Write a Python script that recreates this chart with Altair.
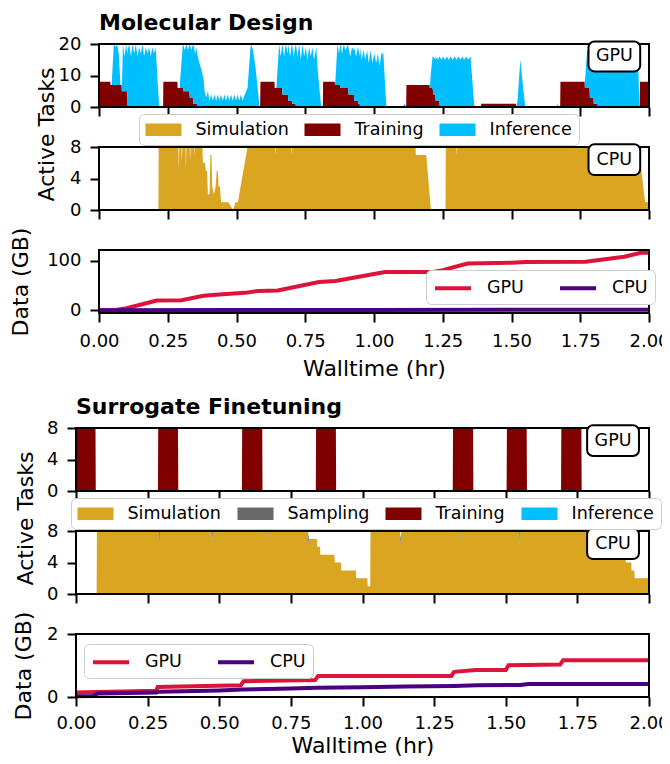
import altair as alt
import pandas as pd

FONT = "DejaVu Sans"

x_ticks = [0.0, 0.25, 0.5, 0.75, 1.0, 1.25, 1.5, 1.75, 2.0]
task_names = ["Simulation", "Sampling", "Training", "Inference"]
task_colors = ["#DAA520", "#696969", "#800000", "#00BFFF"]
data_names = ["GPU", "CPU"]
data_colors = ["#DC143C", "#4B0082"]

# Molecular Design, GPU: (walltime hr, training, inference)
md_gpu = [
    (0.000, 8, 0), (0.041, 8, 0), (0.042, 7, 0), (0.046, 7, 0), (0.054, 7, 13),
    (0.060, 7, 12), (0.066, 7, 13), (0.072, 7, 10), (0.078, 7, 0), (0.082, 7, 0),
    (0.083, 5, 0), (0.087, 5, 15), (0.093, 5, 11), (0.099, 5, 15), (0.103, 5, 12),
    (0.104, 0, 18), (0.110, 0, 20), (0.116, 0, 16), (0.122, 0, 20), (0.128, 0, 17),
    (0.134, 0, 20), (0.140, 0, 16), (0.146, 0, 19), (0.152, 0, 17), (0.158, 0, 20),
    (0.164, 0, 16), (0.170, 0, 19), (0.176, 0, 17), (0.182, 0, 19), (0.188, 0, 16),
    (0.194, 0, 19), (0.200, 0, 17), (0.206, 0, 19), (0.212, 0, 10), (0.219, 0, 0),
    (0.233, 0, 0),
    (0.234, 8, 0), (0.285, 8, 0), (0.286, 6, 0), (0.293, 6, 0), (0.305, 6, 14),
    (0.306, 5, 15), (0.312, 5, 13), (0.318, 5, 15), (0.324, 5, 13), (0.329, 5, 15),
    (0.330, 3, 17), (0.336, 3, 15), (0.342, 3, 17), (0.343, 1, 19), (0.350, 1, 16),
    (0.356, 1, 18), (0.357, 0, 17), (0.365, 0, 14), (0.372, 0, 12), (0.380, 0, 9),
    (0.384, 0, 5), (0.390, 0, 3), (0.396, 0, 5), (0.402, 0, 2), (0.408, 0, 4),
    (0.414, 0, 2), (0.420, 0, 4), (0.426, 0, 2), (0.432, 0, 4), (0.438, 0, 2),
    (0.444, 0, 4), (0.450, 0, 2), (0.456, 0, 4), (0.462, 0, 2), (0.468, 0, 4),
    (0.474, 0, 2), (0.480, 0, 4), (0.486, 0, 2), (0.492, 0, 4), (0.498, 0, 2),
    (0.504, 0, 4), (0.510, 0, 2), (0.516, 0, 4), (0.522, 0, 2), (0.530, 0, 4),
    (0.540, 0, 6), (0.552, 0, 20), (0.560, 0, 18), (0.570, 0, 12), (0.584, 0, 0),
    (0.586, 0, 0),
    (0.587, 8, 0), (0.638, 8, 0), (0.639, 6, 0), (0.645, 6, 0), (0.655, 6, 14),
    (0.661, 6, 10), (0.666, 6, 14), (0.667, 4, 16), (0.673, 4, 12), (0.679, 4, 16),
    (0.687, 4, 13), (0.688, 2, 18), (0.695, 2, 14), (0.701, 2, 18), (0.702, 1, 19),
    (0.708, 1, 15), (0.715, 1, 19), (0.716, 0, 20), (0.722, 0, 16), (0.728, 0, 20),
    (0.734, 0, 15), (0.740, 0, 20), (0.746, 0, 16), (0.752, 0, 19), (0.758, 0, 15),
    (0.764, 0, 19), (0.770, 0, 16), (0.776, 0, 19), (0.782, 0, 15), (0.790, 0, 19),
    (0.797, 0, 10), (0.808, 0, 0), (0.814, 0, 0),
    (0.815, 8, 0), (0.857, 8, 0), (0.858, 7, 0), (0.860, 7, 2), (0.867, 7, 13),
    (0.873, 7, 10), (0.877, 7, 13), (0.878, 6, 14), (0.884, 6, 11), (0.890, 6, 14),
    (0.896, 6, 12), (0.906, 6, 14), (0.907, 4, 15), (0.914, 4, 12), (0.920, 4, 15),
    (0.927, 4, 14), (0.928, 2, 17), (0.935, 2, 14), (0.941, 2, 17), (0.942, 1, 18),
    (0.948, 1, 15), (0.949, 0, 19), (0.955, 0, 15), (0.962, 0, 18), (0.968, 0, 15),
    (0.975, 0, 18), (0.981, 0, 14), (0.988, 0, 18), (0.994, 0, 14), (1.001, 0, 17),
    (1.008, 0, 14), (1.014, 0, 17), (1.020, 0, 13), (1.027, 0, 17), (1.034, 0, 17),
    (1.045, 0, 0), (1.105, 0, 0),
    (1.110, 0, 1), (1.117, 0, 0), (1.118, 7, 0), (1.202, 7, 0), (1.203, 6, 0),
    (1.206, 6, 4), (1.213, 6, 10), (1.216, 4, 12), (1.223, 4, 11), (1.224, 2, 14),
    (1.232, 2, 13), (1.238, 2, 14), (1.239, 0, 16), (1.245, 0, 15), (1.252, 0, 16),
    (1.258, 0, 15), (1.265, 0, 16), (1.272, 0, 15), (1.279, 0, 16), (1.286, 0, 15),
    (1.293, 0, 16), (1.300, 0, 15), (1.307, 0, 16), (1.314, 0, 15), (1.321, 0, 16),
    (1.328, 0, 15), (1.335, 0, 16), (1.342, 0, 15), (1.351, 0, 16), (1.365, 0, 0),
    (1.389, 0, 0),
    (1.390, 1, 0), (1.516, 1, 0), (1.517, 0, 0), (1.522, 0, 2), (1.532, 0, 15),
    (1.550, 0, 0), (1.664, 0, 0), (1.668, 0, 1), (1.672, 0, 0), (1.677, 0, 0),
    (1.678, 8, 0), (1.766, 8, 0), (1.767, 6, 2), (1.775, 6, 12), (1.784, 6, 12),
    (1.785, 3, 15), (1.798, 3, 15), (1.799, 1, 17), (1.813, 1, 17), (1.814, 0, 18),
    (1.830, 0, 17), (1.850, 0, 18), (1.870, 0, 17), (1.890, 0, 18), (1.910, 0, 17),
    (1.930, 0, 18), (1.950, 0, 17), (1.960, 0, 16), (1.965, 0, 0), (1.966, 0, 0),
    (1.967, 8, 0), (2.000, 8, 0),
]

# Molecular Design, CPU: (walltime hr, simulation)
md_cpu = [
    (0.000, 0), (0.216, 0), (0.217, 8), (0.289, 8), (0.290, 5), (0.292, 8),
    (0.300, 8), (0.301, 6), (0.303, 8), (0.315, 8), (0.316, 5), (0.318, 8),
    (0.330, 8), (0.331, 6), (0.333, 8), (0.345, 8), (0.346, 7), (0.348, 8),
    (0.376, 8), (0.378, 6), (0.386, 6), (0.388, 5), (0.393, 5), (0.396, 2),
    (0.402, 2), (0.405, 7), (0.409, 7), (0.412, 3), (0.418, 2), (0.424, 3),
    (0.428, 5), (0.432, 5), (0.435, 3), (0.440, 3), (0.444, 1), (0.470, 1),
    (0.488, 0), (0.496, 1), (0.505, 1), (0.540, 8), (0.640, 8), (0.641, 7),
    (0.643, 8), (0.700, 8), (0.701, 7), (0.703, 8), (1.151, 8), (1.152, 7),
    (1.190, 7), (1.207, 0), (1.260, 0), (1.261, 8), (1.300, 8), (1.301, 7),
    (1.303, 8), (1.962, 8), (1.986, 1), (2.000, 1),
]

# Surrogate Finetuning, GPU: (walltime hr, training)
sf_gpu = [
    (0.000, 8), (0.068, 8), (0.069, 0), (0.286, 0), (0.287, 8), (0.356, 8),
    (0.357, 0), (0.579, 0), (0.580, 8), (0.650, 8), (0.651, 0), (0.837, 0),
    (0.838, 8), (0.907, 8), (0.908, 0), (1.315, 0), (1.316, 8), (1.386, 8),
    (1.387, 0), (1.503, 0), (1.504, 8), (1.573, 8), (1.574, 0), (1.693, 0),
    (1.694, 8), (1.764, 8), (1.765, 0), (2.000, 0),
]

# Surrogate Finetuning, CPU: (walltime hr, simulation, sampling)
sf_cpu = [
    (0.000, 0, 0), (0.072, 0, 0), (0.073, 8, 0), (0.289, 8, 0), (0.290, 6, 2),
    (0.293, 8, 0), (0.475, 8, 0), (0.476, 7, 1), (0.479, 8, 0), (0.662, 8, 0),
    (0.663, 7, 1), (0.666, 8, 0), (0.808, 8, 0), (0.809, 6, 2), (0.813, 7, 0),
    (0.841, 7, 0), (0.842, 6, 0), (0.852, 6, 0), (0.853, 5, 0), (0.902, 5, 0),
    (0.903, 4, 0), (0.925, 4, 0), (0.926, 3, 0), (0.977, 3, 0), (0.978, 2, 0),
    (1.017, 2, 0), (1.018, 1, 0), (1.027, 1, 0), (1.028, 8, 0), (1.131, 8, 0),
    (1.132, 6, 1), (1.136, 8, 0), (1.349, 8, 0), (1.350, 7, 1), (1.353, 8, 0),
    (1.545, 8, 0), (1.546, 6, 2), (1.549, 8, 0), (1.918, 8, 0), (1.919, 4, 0),
    (1.938, 4, 0), (1.939, 3, 0), (1.949, 3, 0), (1.950, 2, 0), (2.000, 2, 0),
]

# Data transferred (GB)
md_data_gpu = [
    (0.00, 0.0), (0.06, 0.5), (0.10, 4.0), (0.15, 11.0), (0.21, 19.5), (0.30, 20.0),
    (0.38, 29.0), (0.45, 32.0), (0.53, 35.0), (0.58, 39.0), (0.65, 40.0), (0.72, 48.0),
    (0.80, 57.0), (0.86, 59.0), (0.93, 66.0), (1.04, 77.0), (1.21, 77.0), (1.25, 81.0),
    (1.34, 94.5), (1.50, 96.0), (1.55, 97.5), (1.77, 98.0), (1.91, 108.0), (1.97, 116.0),
    (2.00, 116.0),
]
md_data_cpu = [(0.00, 0.0), (0.50, 0.3), (1.00, 0.5), (1.50, 0.8), (2.00, 1.0)]
sf_data_gpu = [
    (0.000, 0.14), (0.280, 0.20), (0.285, 0.32), (0.575, 0.37), (0.585, 0.50),
    (0.835, 0.54), (0.845, 0.67), (1.310, 0.67), (1.320, 0.80), (1.395, 0.86),
    (1.500, 0.86), (1.510, 1.01), (1.690, 1.03), (1.700, 1.17), (2.000, 1.17),
]
sf_data_cpu = [
    (0.000, 0.02), (0.060, 0.03), (0.075, 0.11), (0.280, 0.14), (0.290, 0.17),
    (0.500, 0.21), (0.580, 0.24), (0.750, 0.27), (0.840, 0.29), (1.000, 0.31),
    (1.150, 0.33), (1.320, 0.35), (1.400, 0.37), (1.550, 0.38), (1.580, 0.41),
    (2.000, 0.41),
]

PANEL_H = 63


def tasks_frame(rows, names):
    recs = []
    for row in rows:
        for name, val in zip(names, row[1:]):
            recs.append({"t": row[0], "task": name, "n": val, "k": task_names.index(name)})
    return pd.DataFrame(recs)


def lines_frame(series):
    recs = []
    for name, rows in series:
        for t, v in rows:
            recs.append({"t": t, "series": name, "gb": v})
    return pd.DataFrame(recs)


def x_axis(labels, label_pad=10, title_pad=8):
    kw = dict(values=x_ticks, format=".2f", labels=labels, ticks=True, tickSize=9, tickWidth=2,
              tickColor="black", domain=False, grid=False, labelFont=FONT, labelFontSize=18,
              labelColor="black", labelPadding=label_pad, labelFlush=False, labelOverlap=False)
    if labels:
        kw.update(title="Walltime (hr)", titleFont=FONT, titleFontSize=22,
                  titleFontWeight="normal", titleColor="black", titlePadding=title_pad)
    else:
        kw.update(title=None)
    return alt.Axis(**kw)


def y_axis(values, title=None, title_x=0, title_y=None):
    kw = dict(values=values, tickSize=9, tickWidth=2, tickColor="black", domain=False, grid=False,
              labelFont=FONT, labelFontSize=18, labelColor="black", labelPadding=9)
    if title:
        kw.update(title=title, titleFont=FONT, titleFontSize=22, titleFontWeight="normal",
                  titleColor="black", titleBaseline="alphabetic", titleX=title_x)
        if title_y is not None:
            kw.update(titleY=title_y)
    else:
        kw.update(title=None)
    return alt.Axis(**kw)


def frame_layer(ymin, ymax, xax, yax):
    df = pd.DataFrame({"x0": [0.0], "x1": [2.0], "y0": [ymin], "y1": [ymax]})
    return alt.Chart(df).mark_rect(fillOpacity=0, stroke="black", strokeWidth=2).encode(
        x=alt.X("x0:Q", axis=xax), x2="x1", y=alt.Y("y0:Q", axis=yax), y2="y1")


def tag_layers(tag, xax, yax):
    label, x0, x1, y0, y1 = tag
    df = pd.DataFrame({"x0": [x0], "x1": [x1], "y0": [y0], "y1": [y1],
                       "xc": [(x0 + x1) / 2], "yc": [(y0 + y1) / 2], "label": [label]})
    box = alt.Chart(df).mark_rect(fill="white", stroke="black", strokeWidth=2, cornerRadius=6).encode(
        x=alt.X("x0:Q", axis=xax), x2="x1", y=alt.Y("y0:Q", axis=yax), y2="y1")
    txt = alt.Chart(df).mark_text(font=FONT, fontSize=17.5, color="black", align="center",
                                  baseline="middle").encode(
        x=alt.X("xc:Q", axis=xax), y=alt.Y("yc:Q", axis=yax), text="label:N")
    return [box, txt]


# wide legend swatch: reserved 18 px, drawn 36 px wide starting at the entry start
SWATCH = "M-1,-0.7H3V0.7H-1Z"
LINE_SWATCH = "M-1,0H3"


def task_legend(n, lx, ly, colpad):
    return alt.Legend(orient="none", legendX=lx, legendY=ly, direction="horizontal", columns=n,
                      title=None, symbolType=SWATCH, symbolSize=324,
                      symbolStrokeWidth=0, symbolOpacity=1, labelFont=FONT, labelFontSize=17.5,
                      labelColor="black", labelOffset=32, columnPadding=colpad, padding=6.5,
                      fillColor="white", strokeColor="#cccccc", cornerRadius=5)


def data_legend(lx, ly):
    return alt.Legend(orient="none", legendX=lx, legendY=ly, direction="horizontal", columns=2,
                      title=None, symbolType=LINE_SWATCH, symbolSize=324, symbolStrokeWidth=4,
                      labelFont=FONT, labelFontSize=17.5, labelColor="black", labelOffset=32,
                      columnPadding=28, padding=7, fillColor="white", strokeColor="#cccccc",
                      cornerRadius=5)


def task_panel(rows, names, domain, ymax, yax, legend, tag, width, title=None):
    df = tasks_frame(rows, names)
    xax = x_axis(False)
    area = alt.Chart(df).mark_area(interpolate="linear", opacity=1).encode(
        x=alt.X("t:Q", scale=alt.Scale(domain=[0, 2], nice=False, zero=False), axis=xax),
        y=alt.Y("n:Q", stack="zero", scale=alt.Scale(domain=[0, ymax], nice=False), axis=yax),
        color=alt.Color("task:N", scale=alt.Scale(
            domain=domain, range=[task_colors[task_names.index(d)] for d in domain]), legend=legend),
        order=alt.Order("k:Q"),
    )
    layers = [area, frame_layer(0, ymax, xax, yax)] + tag_layers(tag, xax, yax)
    ch = alt.layer(*layers).properties(width=width, height=PANEL_H)
    if title:
        ch = ch.properties(title=alt.TitleParams(title, anchor="start", frame="group", font=FONT,
                                                 fontSize=22, fontWeight="bold", color="black",
                                                 offset=0))
    return ch


def data_panel(series, ymin, ymax, yvalues, title_x, lx, ly, width, label_pad, title_pad):
    df = lines_frame(series)
    xax = x_axis(True, label_pad, title_pad)
    yax = y_axis(yvalues, "Data (GB)", title_x)
    lines = alt.Chart(df).mark_line(strokeWidth=4, interpolate="linear").encode(
        x=alt.X("t:Q", scale=alt.Scale(domain=[0, 2], nice=False, zero=False), axis=xax),
        y=alt.Y("gb:Q", scale=alt.Scale(domain=[ymin, ymax], nice=False, zero=False), axis=yax),
        color=alt.Color("series:N", scale=alt.Scale(domain=data_names, range=data_colors),
                        legend=data_legend(lx, ly)),
    )
    return alt.layer(lines, frame_layer(ymin, ymax, xax, yax)).properties(width=width, height=PANEL_H)


W1, W2 = 550, 573
md_dom = ["Simulation", "Training", "Inference"]

md_gpu_panel = task_panel(md_gpu, ["Training", "Inference"], md_dom, 20,
                          y_axis([0, 10, 20]), None, ("GPU", 1.780, 1.968, 11.3, 20.8), W1,
                          title="Molecular Design")
md_cpu_panel = task_panel(md_cpu, ["Simulation"], md_dom, 8,
                          y_axis([0, 4, 8], "Active Tasks", -45.5, -13), task_legend(3, 40, -33, 15),
                          ("CPU", 1.780, 1.968, 4.43, 8.34), W1)
md_data_panel = data_panel([("GPU", md_data_gpu), ("CPU", md_data_cpu)], -5.8, 121.8, [0, 100],
                           -72, 327, 20, W1, 10, 8)

sf_gpu_panel = task_panel(sf_gpu, ["Training"], task_names, 8,
                          y_axis([0, 4, 8]), None, ("GPU", 1.784, 1.965, 4.45, 8.34), W2,
                          title="Surrogate Finetuning")
sf_cpu_panel = task_panel(sf_cpu, ["Simulation", "Sampling"], task_names, 8,
                          y_axis([0, 4, 8], "Active Tasks", -44, -13), task_legend(4, -5, -33, 16),
                          ("CPU", 1.784, 1.965, 4.43, 8.34), W2)
sf_data_panel = data_panel([("GPU", sf_data_gpu), ("CPU", sf_data_cpu)], 0, 2, [0, 2],
                           -46, 8, 10, W2, 8, 3)

spacer = alt.Chart(pd.DataFrame({"v": [0]})).mark_point(opacity=0).encode(
    x=alt.X("v:Q", axis=None), y=alt.Y("v:Q", axis=None)).properties(width=23, height=10)

group1 = alt.vconcat(md_gpu_panel, md_cpu_panel, md_data_panel, spacing=40,
                     bounds="flush").resolve_scale(color="independent")
wrapper1 = alt.hconcat(spacer, group1, spacing=0, bounds="flush").resolve_scale(color="independent")
group2 = alt.vconcat(sf_gpu_panel, sf_cpu_panel, sf_data_panel, spacing=40,
                     bounds="flush").resolve_scale(color="independent")

# right padding is negative so the last tick label is clipped at the page edge, as in the original
chart = alt.vconcat(wrapper1, group2, spacing=15).resolve_scale(color="independent").properties(
    padding={"left": 0, "top": 3, "right": -8, "bottom": 0}
).configure(font=FONT, view=alt.ViewConfig(stroke="transparent"))

chart.save("out.html", embed_options={"renderer": "svg", "actions": False})
